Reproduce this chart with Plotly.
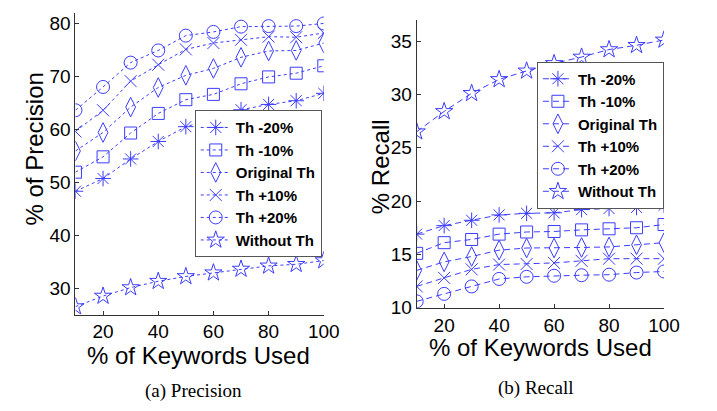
import plotly.graph_objects as go

keywords = [10, 20, 30, 40, 50, 60, 70, 80, 90, 100]
series_names = ["Th -20%", "Th -10%", "Original Th", "Th +10%", "Th +20%", "Without Th"]

precision_m20 = [48.3, 50.7, 54.4, 57.7, 60.5, 61.9, 63.7, 64.7, 65.4, 66.8]
precision_m10 = [51.9, 54.8, 59.3, 63.0, 65.6, 66.6, 68.6, 69.9, 70.6, 72.0]
precision_orig = [55.9, 59.4, 64.2, 67.9, 70.2, 71.5, 73.6, 74.8, 74.9, 76.3]
precision_p10 = [59.6, 63.6, 69.1, 72.2, 75.1, 76.3, 76.9, 77.5, 77.4, 78.2]
precision_p20 = [63.6, 68.0, 72.6, 74.9, 77.7, 78.4, 79.4, 79.5, 79.5, 80.0]
precision_noth = [26.5, 28.5, 30.1, 31.3, 32.2, 32.9, 33.6, 34.2, 34.5, 35.2]

recall_m20 = [16.9, 17.7, 18.2, 18.7, 18.85, 18.9, 19.2, 19.3, 19.4, 19.6]
recall_m10 = [15.1, 16.1, 16.4, 16.9, 17.1, 17.15, 17.3, 17.4, 17.5, 17.8]
recall_orig = [13.5, 14.3, 14.8, 15.4, 15.6, 15.6, 15.65, 15.7, 15.9, 16.1]
recall_p10 = [12.0, 12.8, 13.6, 14.05, 14.1, 14.2, 14.4, 14.6, 14.6, 14.6]
recall_p20 = [10.6, 11.3, 12.0, 12.7, 12.9, 13.0, 13.05, 13.1, 13.3, 13.4]
recall_noth = [26.5, 28.4, 30.1, 31.4, 32.2, 32.9, 33.5, 34.2, 34.6, 35.1]

x_ticks = [20, 40, 60, 80, 100]
prec_ticks = [30, 40, 50, 60, 70, 80]
recall_ticks = [10, 15, 20, 25, 30, 35]

symbols = ["asterisk-open", "square-open", "diamond-tall-open", "x-thin-open", "circle-open", "star-open"]
sizes = [13, 12, 14, 12, 13, 13]
COLOR = "rgb(60,60,255)"
SANS = "Liberation Sans, Arial, sans-serif"
SERIF = "Liberation Serif, Times New Roman, serif"

precision = [precision_m20, precision_m10, precision_orig, precision_p10, precision_p20, precision_noth]
recall = [recall_m20, recall_m10, recall_orig, recall_p10, recall_p20, recall_noth]

fig = go.Figure()
for name, ys, sym, sz in zip(series_names, precision, symbols, sizes):
    fig.add_trace(go.Scatter(
        x=keywords, y=ys, name=name, mode="lines+markers",
        line=dict(color=COLOR, width=1, dash="dot"),
        marker=dict(symbol=sym, size=sz, color=COLOR, line=dict(color=COLOR, width=1)),
        xaxis="x", yaxis="y", legend="legend"))
for name, ys, sym, sz in zip(series_names, recall, symbols, sizes):
    fig.add_trace(go.Scatter(
        x=keywords, y=ys, name=name, mode="lines+markers",
        line=dict(color=COLOR, width=1, dash="6px,4px"),
        marker=dict(symbol=sym, size=sz, color=COLOR, line=dict(color=COLOR, width=1)),
        xaxis="x2", yaxis="y2", legend="legend2"))

W, H = 717, 411
def fx(px):
    return px / W
def fy(py):
    return (H - py) / H

axis_common = dict(showline=True, linecolor="#333", linewidth=1, ticks="inside", ticklen=4,
                   tickcolor="#333", showgrid=False, zeroline=False,
                   tickfont=dict(family=SANS, size=19, color="black"))

legend_common = dict(bgcolor="white", bordercolor="#555", borderwidth=1,
                     font=dict(family=SANS, size=15, color="black", weight="bold"),
                     xanchor="left", yanchor="top", tracegroupgap=0, itemwidth=30)

def label(text, px, py, size, family, angle=0):
    return dict(text=text, x=fx(px), y=fy(py), xref="paper", yref="paper", textangle=angle,
                xanchor="center", yanchor="middle", showarrow=False,
                font=dict(family=family, size=size, color="black"))

fig.update_layout(
    width=W, height=H, margin=dict(l=0, r=0, t=0, b=0),
    paper_bgcolor="white", plot_bgcolor="white",
    xaxis=dict(domain=[fx(69), fx(323)], range=[10, 100], tickvals=x_ticks, anchor="y", **axis_common),
    yaxis=dict(domain=[fy(315), fy(5)], range=[25, 82], tickvals=prec_ticks, anchor="x", **axis_common),
    xaxis2=dict(domain=[fx(418), fx(671)], range=[10, 100], tickvals=x_ticks, anchor="y2", **axis_common),
    yaxis2=dict(domain=[fy(308), fy(12)], range=[10, 37], tickvals=recall_ticks, anchor="x2", **axis_common),
    legend=dict(x=fx(191), y=fy(105), **legend_common),
    legend2=dict(x=fx(541), y=fy(55), **legend_common),
    annotations=[
        label("% of Precision", 27, 145, 24, SANS, -90),
        label("% Recall", 381, 163, 24, SANS, -90),
        label("% of Keywords Used", 195, 357, 24, SANS),
        label("% of Keywords Used", 545, 349, 24, SANS),
        label("(a) Precision", 190, 394, 19, SERIF),
        label("(b) Recall", 540, 390, 19, SERIF),
    ],
)

fig.write_html("out.html")
